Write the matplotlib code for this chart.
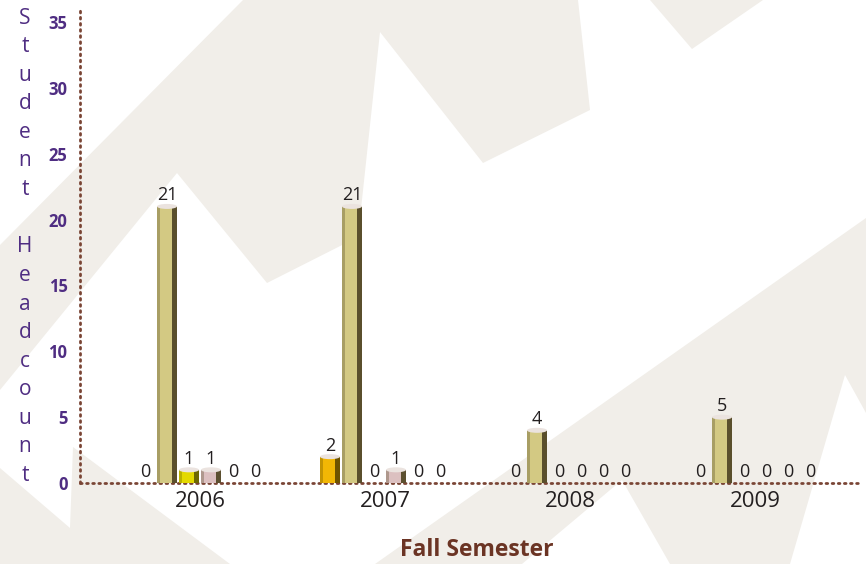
import matplotlib.pyplot as plt
from matplotlib.patches import Polygon, Ellipse

# data
years = ['2006', '2007', '2008', '2009']
series_a = [0, 2, 0, 0]      # orange
series_b = [21, 21, 4, 5]    # olive
series_c = [1, 0, 0, 0]      # yellow
series_d = [1, 1, 0, 0]      # pink
series_e = [0, 0, 0, 0]
series_f = [0, 0, 0, 0]
y_ticks = [0, 5, 10, 15, 20, 25, 30, 35]

all_series = [series_a, series_b, series_c, series_d, series_e, series_f]
face_colors = ['#f2b705', '#d3c983', '#e4d900', '#dcc0c0', '#d3c983', '#d3c983']
dark_colors = ['#6e5300', '#5a4f2c', '#6d6700', '#5c5030', '#5a4f2c', '#5a4f2c']

W, H = 866, 564
plt.rcParams['font.family'] = ['Open Sans', 'DejaVu Sans']
fig = plt.figure(figsize=(W / 100, H / 100), dpi=100)
fig.patch.set_facecolor('white')

# background zigzag shapes (pixel coords)
bg = '#f1eee9'
shapes = [
    [(243, 0), (578, 0), (590, 110), (483, 163), (380, 32), (358, 237),
     (267, 283), (177, 173), (0, 390), (0, 245)],
    [(650, 0), (692, 49), (763, 0)],
    [(866, 218), (375, 564), (522, 564), (622, 480), (670, 564),
     (790, 564), (845, 375), (866, 413)],
    [(0, 468), (70, 528), (73, 447), (230, 564), (0, 564)],
]
for s in shapes:
    pts = [(x / W, 1 - y / H) for x, y in s]
    fig.add_artist(Polygon(pts, closed=True, transform=fig.transFigure,
                           facecolor=bg, edgecolor='none', zorder=0))

# axes: y=0 at px 483, 13.17 px per unit
px_unit = 13.17
ax_left, ax_bottom = 80 / W, (H - 483) / H
ax_top_px = 10
ax = fig.add_axes([ax_left, ax_bottom, 1 - ax_left, (483 - ax_top_px) / H])
ax.patch.set_alpha(0)
ax.set_ylim(0, (483 - ax_top_px) / px_unit)

group_px = 185.0
x0 = -(200 - 80) / group_px
ax.set_xlim(x0, x0 + (W - 80) / group_px)

step = 22 / group_px
bw = 20 / group_px
cap_h = 5 / px_unit

for j, vals in enumerate(all_series):
    for i, v in enumerate(vals):
        xc = i + (j - 2.5) * step
        if v > 0:
            ax.bar(xc, v, width=bw, color=face_colors[j], zorder=3)
            ax.bar(xc - bw * 0.42, v, width=bw * 0.16, color=dark_colors[j],
                   alpha=0.35, zorder=4)
            ax.bar(xc + bw * 0.38, v, width=bw * 0.24, color=dark_colors[j], zorder=4)
            ax.add_patch(Ellipse((xc, v), bw, cap_h, facecolor='#ebe3df',
                                 edgecolor='none', zorder=5))
        ax.text(xc, v + 0.15, str(v), ha='center', va='bottom',
                fontsize=13, color='#231f20', zorder=6)

for sp in ['top', 'right']:
    ax.spines[sp].set_visible(False)
for sp in ['left', 'bottom']:
    ax.spines[sp].set_color('#7a4535')
    ax.spines[sp].set_linewidth(2)
    ax.spines[sp].set_linestyle((0, (0.6, 1.6)))
    ax.spines[sp].set_capstyle('round')
ax.spines['bottom'].set_bounds(x0, x0 + (860 - 80) / group_px)

ax.set_yticks(y_ticks)
ax.set_yticklabels([str(t) for t in y_ticks], fontsize=12, fontweight='bold',
                   color='#4f2d82')
ax.tick_params(axis='y', length=0, pad=9)
ax.set_xticks(range(len(years)))
ax.set_xticklabels(years, fontsize=16, color='#231f20')
ax.tick_params(axis='x', length=0, pad=6)

# vertical stacked y label
label = 'Student Headcount'
for k, ch in enumerate(label):
    if ch == ' ':
        continue
    fig.text(25 / W, 1 - (18 + 28.6 * k) / H, ch, ha='center', va='center',
             fontsize=15, color='#4f2d82')

fig.text(477 / W, 1 - 550 / H, 'Fall Semester', ha='center', va='center',
         fontsize=16.5, fontweight='bold', color='#6b3424')

fig.savefig('out.png', dpi=100)
